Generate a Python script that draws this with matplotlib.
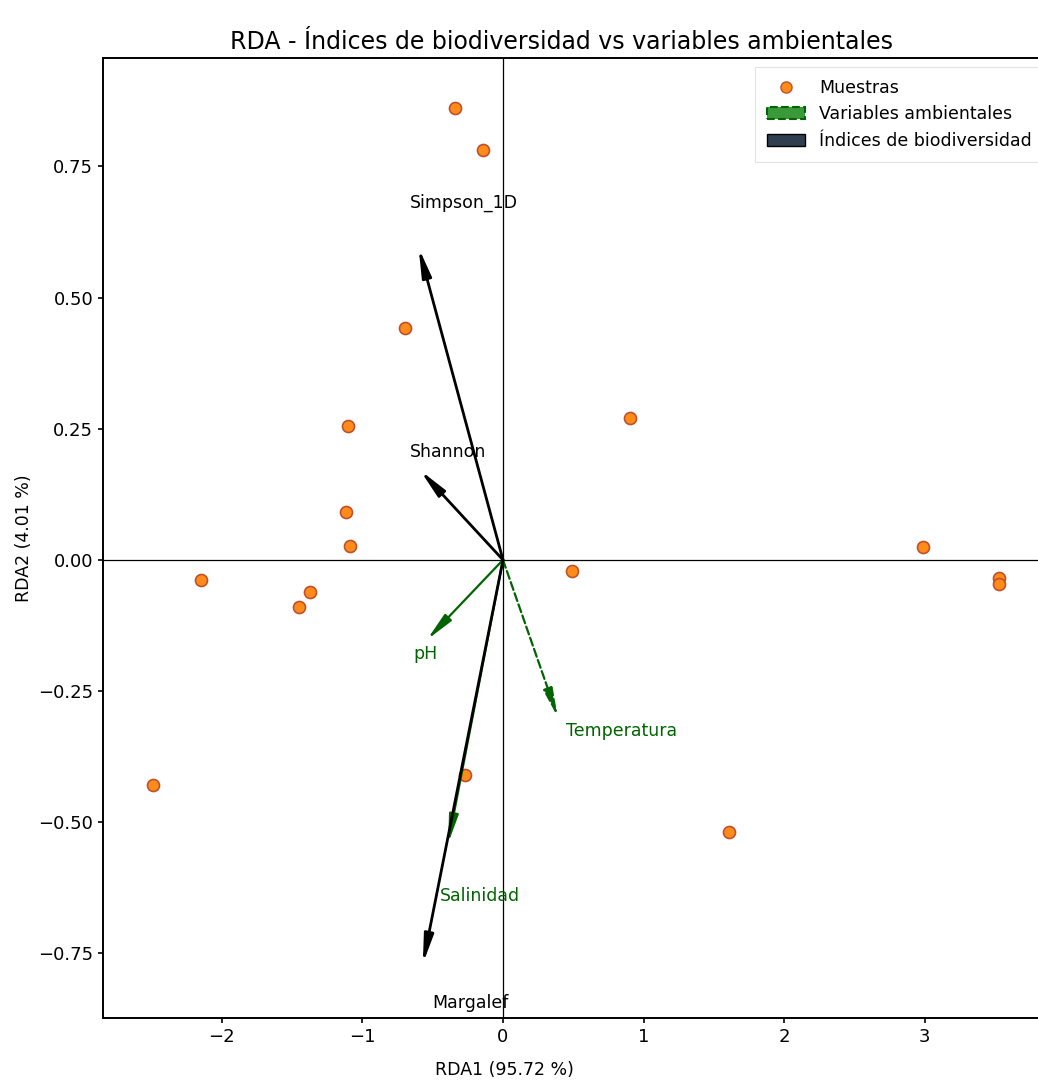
import numpy as np
import matplotlib.pyplot as plt
import matplotlib.patches as mpatches
from matplotlib.lines import Line2D

# site scores (RDA1, RDA2)
rda1 = [-0.34, -0.14, -0.70, -1.10, 0.90, -1.12, -1.09, 2.99, 3.53, 3.53,
        -2.15, -1.37, -1.45, 0.49, -2.49, -0.27, 1.61]
rda2 = [0.861, 0.781, 0.442, 0.255, 0.271, 0.091, 0.027, 0.025, -0.035, -0.045,
        -0.038, -0.061, -0.090, -0.021, -0.429, -0.410, -0.518]

# environmental variables
env_names = ['pH', 'Temperatura', 'Salinidad']
env_x = [-0.54, 0.39, -0.39]
env_y = [-0.152, -0.300, -0.540]
env_lab_x = [-0.64, 0.45, -0.45]
env_lab_y = [-0.18, -0.326, -0.64]

# biodiversity indices
bio_names = ['Simpson_1D', 'Shannon', 'Margalef']
bio_x = [-0.60, -0.59, -0.57]
bio_y = [0.595, 0.171, -0.770]
bio_lab_x = [-0.66, -0.66, -0.50]
bio_lab_y = [0.68, 0.206, -0.845]

fig = plt.figure(figsize=(10.38, 10.91), dpi=100)
ax = fig.add_axes([0.0992, 0.067, 0.9104, 0.880])

ax.axhline(0, color='black', lw=0.9)
ax.axvline(0, color='black', lw=0.9)

ax.scatter(rda1, rda2, s=75, color='#ff8c1a', edgecolor='#c0502a', lw=1.2, zorder=3)

head = '-|>,head_width=0.14,head_length=0.85'
for i, name in enumerate(env_names):
    ls = '--' if name == 'Temperatura' else '-'
    ax.annotate('', xy=(env_x[i], env_y[i]), xytext=(0, 0),
                arrowprops=dict(arrowstyle=head, color='darkgreen', lw=1.6,
                                linestyle=ls, mutation_scale=20,
                                shrinkA=0, shrinkB=0))
    ax.text(env_lab_x[i], env_lab_y[i], name, color='darkgreen', fontsize=12.5,
            ha='left', va='center')

for i, name in enumerate(bio_names):
    ax.annotate('', xy=(bio_x[i], bio_y[i]), xytext=(0, 0),
                arrowprops=dict(arrowstyle=head, color='black', lw=2,
                                mutation_scale=20, shrinkA=0, shrinkB=0))
    ax.text(bio_lab_x[i], bio_lab_y[i], name, color='black', fontsize=12.5,
            ha='left', va='center')

ax.set_xlim(-2.845, 3.876)
ax.set_ylim(-0.873, 0.957)
ax.set_xticks([-2, -1, 0, 1, 2, 3])
ax.set_yticks([-0.75, -0.5, -0.25, 0, 0.25, 0.5, 0.75])
ax.tick_params(axis='both', labelsize=13, width=1.2)
for sp in ax.spines.values():
    sp.set_linewidth(1.4)

ax.set_xlabel('RDA1 (95.72 %)', fontsize=12.5)
ax.xaxis.set_label_coords(0.425, -0.045)
ax.set_ylabel('RDA2 (4.01 %)', fontsize=12.5)
ax.set_title('RDA - Índices de biodiversidad vs variables ambientales',
             fontsize=17, x=0.485)

handles = [
    Line2D([], [], marker='o', ls='', color='#ff8c1a', markeredgecolor='#c0502a',
           markersize=8, label='Muestras'),
    mpatches.Patch(facecolor='#3a9a3a', edgecolor='darkgreen', linestyle='--',
                   lw=1.5, label='Variables ambientales'),
    mpatches.Patch(facecolor='#2f3f4f', edgecolor='black', label='Índices de biodiversidad'),
]
leg = ax.legend(handles=handles, loc='upper right', bbox_to_anchor=(1.005, 1.0),
                fontsize=12.5, frameon=True, fancybox=False, edgecolor='#dddddd',
                handlelength=2.2, borderpad=0.7)
leg.get_frame().set_linewidth(0.8)

fig.savefig('out.png', dpi=100)
